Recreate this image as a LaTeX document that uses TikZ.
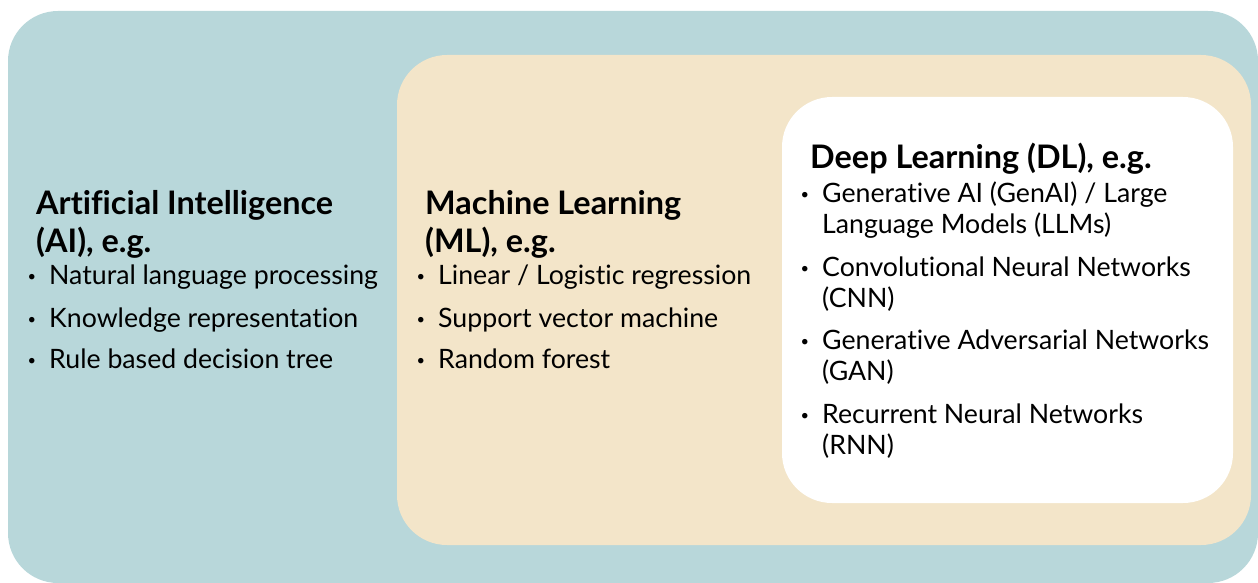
\documentclass[tikz,border=0pt]{standalone}
\usepackage{fontspec}
\setmainfont{Lato}[Ligatures=NoCommon]
\usepackage{tikz}
\usetikzlibrary{positioning}
\definecolor{aiteal}{HTML}{B8D7DA}
\definecolor{mlcream}{HTML}{F3E5C9}
\tikzset{head/.style={anchor=base west,inner sep=0pt,align=left,font=\fontsize{32.4}{38}\selectfont\bfseries}}
\tikzset{entry/.style={anchor=base west,inner sep=0pt,align=left,font=\fontsize{26.7}{31}\selectfont}}
\newcommand{\dotmark}{\llap{\raisebox{2.5pt}{\scalebox{0.55}{\textbullet}}\hspace{13pt}}}

\begin{document}
\begin{tikzpicture}[x=1pt, y=-1pt]
\tikzstyle{area}=[rounded corners=50pt]
    \useasboundingbox (0,0) rectangle (1258,583);
    \fill[area,aiteal] (8,11) rectangle (1258,583);
    \fill[area,mlcream] (397,55) rectangle (1251,545);
    \fill[area,white] (782,97) rectangle (1233,503);
    % AI
    \node[head] (aihead) at (36,252) {Artificial Intelligence\\(AI), e.g.};
    \node[entry] (ai1) at (49,284) {\dotmark Natural language processing};
    \node[entry] (ai2) at (49,327) {\dotmark Knowledge representation};
    \node[entry] (ai3) at (49,368) {\dotmark Rule based decision tree};
    % ML
    \node[head] (mlhead) at (425,252) {Machine Learning\\(ML), e.g.};
    \node[entry] (ml1) at (438,284) {\dotmark Linear / Logistic regression};
    \node[entry] (ml2) at (438,327) {\dotmark Support vector machine};
    \node[entry] (ml3) at (438,368) {\dotmark Random forest};
    % DL
    \node[head] (dlhead) at (810,168) {Deep Learning (DL), e.g.};
    \node[entry] (dl1) at (822,233) {\dotmark Generative AI (GenAI) / Large\\Language Models (LLMs)};
    \node[entry] (dl2) at (822,307) {\dotmark Convolutional Neural Networks\\(CNN)};
    \node[entry] (dl3) at (822,380) {\dotmark Generative Adversarial Networks\\(GAN)};
    \node[entry] (dl4) at (822,454) {\dotmark Recurrent Neural Networks\\(RNN)};
\end{tikzpicture}
\end{document}
